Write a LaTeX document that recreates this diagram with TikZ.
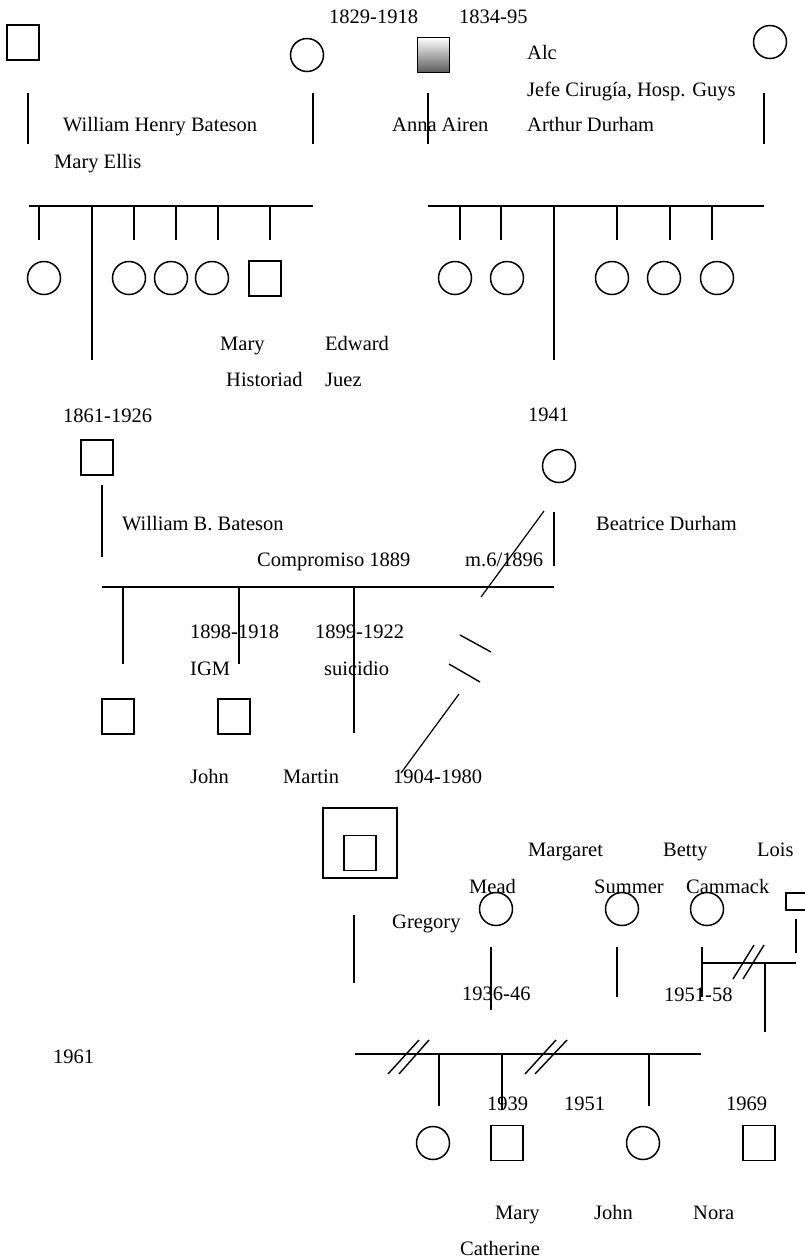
\documentclass[tikz,border=0pt]{standalone}
\usepackage{fontspec}
\setmainfont{Liberation Serif}
\usepackage{tikz}

\begin{document}
\begin{tikzpicture}[x=1pt, y=-1pt,
  font=\fontsize{20.5}{24}\selectfont,
  male/.style={draw, line width=1.5pt, rectangle, minimum width=32pt, minimum height=35pt, inner sep=0pt},
  female/.style={draw, line width=1.5pt, circle, minimum size=33pt, inner sep=0pt},
  lbl/.style={anchor=base west, inner sep=0pt},
  kin/.style={line width=1.2pt},
  sib/.style={line width=2.2pt},
  slash/.style={line width=1.4pt}]
  \useasboundingbox (0,0) rectangle (804,1259);
  % first generation
  \node[male]   (whbateson) at (23,42.5)  {};
  \node[female] (mellis)    at (307,55)   {};
  \node[male, top color=white, bottom color=black!65] (aairen) at (433.5,55) {};
  \node[female] (adurham)   at (770,42)   {};
  \foreach \x in {28,313,428,764} {\draw[kin] (\x,93) -- (\x,144);}
  \node[lbl] (yw)     at (329,23)  {1829-1918};
  \node[lbl] (ya)     at (459,23)  {1834-95};
  \node[lbl] (alc)    at (527,59)  {Alc};
  \node[lbl] (jefe)   at (527,96)  {Jefe Cirugía, Hosp. Guys};
  \node[lbl] (nwhb)   at (63,131)  {William Henry Bateson};
  \node[lbl] (nanna)  at (392,131) {Anna Airen};
  \node[lbl] (narth)  at (527,131) {Arthur Durham};
  \node[lbl] (nmell)  at (54,168)  {Mary Ellis};
  % Bateson siblings
  \draw[sib] (29,206) -- (313,206);
  \foreach \x in {39,134,176,218,270} {\draw[kin] (\x,206) -- (\x,240);}
  \draw[kin] (92,206) -- (92,360);
  \foreach \x/\n in {44/ba,129/bb,171/bc,212/bd} {\node[female] (\n) at (\x,278) {};}
  \node[male] (edward) at (265,278.5) {};
  \node[lbl] (nmary)  at (220,350) {Mary};
  \node[lbl] (nedw)   at (325,350) {Edward};
  \node[lbl] (nhist)  at (226,386) {Historiad};
  \node[lbl] (njuez)  at (325,386) {Juez};
  % Durham siblings
  \draw[sib] (428,206) -- (764,206);
  \foreach \x in {460,501,617,670,712} {\draw[kin] (\x,206) -- (\x,240);}
  \draw[kin] (554,206) -- (554,360);
  \foreach \x/\n in {455/da,507/db,612/dc,664/dd,717/de} {\node[female] (\n) at (\x,278) {};}
  % second generation
  \node[lbl] (ywb)   at (63,422)  {1861-1926};
  \node[male] (wbbateson) at (97,457.5) {};
  \draw[kin] (102,485) -- (102,557);
  \node[lbl] (nwbb)  at (122,530) {William B. Bateson};
  \node[lbl] (ncomp) at (257,566) {Compromiso 1889};
  \node[lbl] (ybd)   at (528,421) {1941};
  \node[female] (bdurham) at (559,466) {};
  \draw[kin] (554,512) -- (554,566);
  \node[lbl] (nbd)   at (596,530) {Beatrice Durham};
  \node[lbl] (nmarr) at (465,566) {m.6/1896};
  \draw[kin] (544,511) -- (481,597);
  \draw[sib] (102,587) -- (554,587);
  \draw[kin] (123,587) -- (123,664);
  \draw[kin] (239,587) -- (239,664);
  \draw[kin] (354,587) -- (354,733);
  \node[male] (john)   at (118,716.5) {};
  \node[male] (martin) at (234,716.5) {};
  \draw[slash] (460,635) -- (491,652);
  \draw[slash] (449,664) -- (480,682);
  \draw[kin] (459,694) -- (401,773);
  \node[lbl] (yjohn) at (190,638) {1898-1918};
  \node[lbl] (ymart) at (315,638) {1899-1922};
  \node[lbl] (nigm)  at (190,675) {IGM};
  \node[lbl] (nsuic) at (324,675) {suicidio};
  \node[lbl] (njohn) at (190,783) {John};
  \node[lbl] (nmart) at (283,783) {Martin};
  \node[lbl] (ygreg) at (393,783) {1904-1980};
  % Gregory and his wives
  \node[draw, line width=1.5pt, minimum width=74pt, minimum height=70pt, inner sep=0pt] (gframe) at (360,843) {};
  \node[male] (gregory) at (360,853) {};
  \draw[kin] (354,915) -- (354,983);
  \node[lbl] (ngreg) at (392,928) {Gregory};
  \node[lbl] (nmarg) at (528,856) {Margaret};
  \node[lbl] (nbett) at (663,856) {Betty};
  \node[lbl] (nlois) at (757,856) {Lois};
  \node[lbl] (nmead) at (469,893) {Mead};
  \node[lbl] (nsumm) at (594,893) {Summer};
  \node[lbl] (ncamm) at (686,893) {Cammack};
  \node[female] (mead)    at (496,909) {};
  \node[female] (summer)  at (622,909) {};
  \node[female] (cammack) at (707,909) {};
  \node[draw, line width=1.5pt, anchor=north west, minimum width=34pt, minimum height=17pt, inner sep=0pt] (lois) at (785,892) {};
  \draw[kin] (491,947) -- (491,1010);
  \draw[kin] (617,947) -- (617,997);
  \draw[kin] (702,947) -- (702,997);
  \draw[kin] (796,919) -- (796,953);
  \draw[sib] (702,963) -- (796,963);
  \draw[slash] (733,979) -- (754,945);
  \draw[slash] (743,979) -- (764,945);
  \draw[kin] (765,963) -- (765,1032);
  \node[lbl] (ymead) at (462,1000) {1936-46};
  \node[lbl] (ycamm) at (664,1001) {1951-58};
  \node[lbl] (y1961) at (53,1063)  {1961};
  % third generation
  \draw[sib] (355,1054) -- (701,1054);
  \draw[slash] (388,1074) -- (419,1040);
  \draw[slash] (399,1074) -- (429,1040);
  \draw[slash] (525,1074) -- (556,1040);
  \draw[slash] (535,1074) -- (567,1040);
  \draw[kin] (439,1054) -- (439,1106);
  \draw[kin] (502,1054) -- (502,1110);
  \draw[kin] (649,1054) -- (649,1106);
  \node[female] (ca) at (433,1143) {};
  \node[male]   (cb) at (507,1143) {};
  \node[female] (cc) at (643,1143) {};
  \node[male]   (cd) at (759,1143) {};
  \node[lbl] (y1939) at (487,1110) {1939};
  \node[lbl] (y1951) at (564,1110) {1951};
  \node[lbl] (y1969) at (726,1110) {1969};
  \node[lbl] (nmc)   at (495,1219) {Mary};
  \node[lbl] (njs)   at (594,1219) {John};
  \node[lbl] (nnora) at (693,1219) {Nora};
  \node[lbl] (ncath) at (460,1255) {Catherine};
\end{tikzpicture}
\end{document}
